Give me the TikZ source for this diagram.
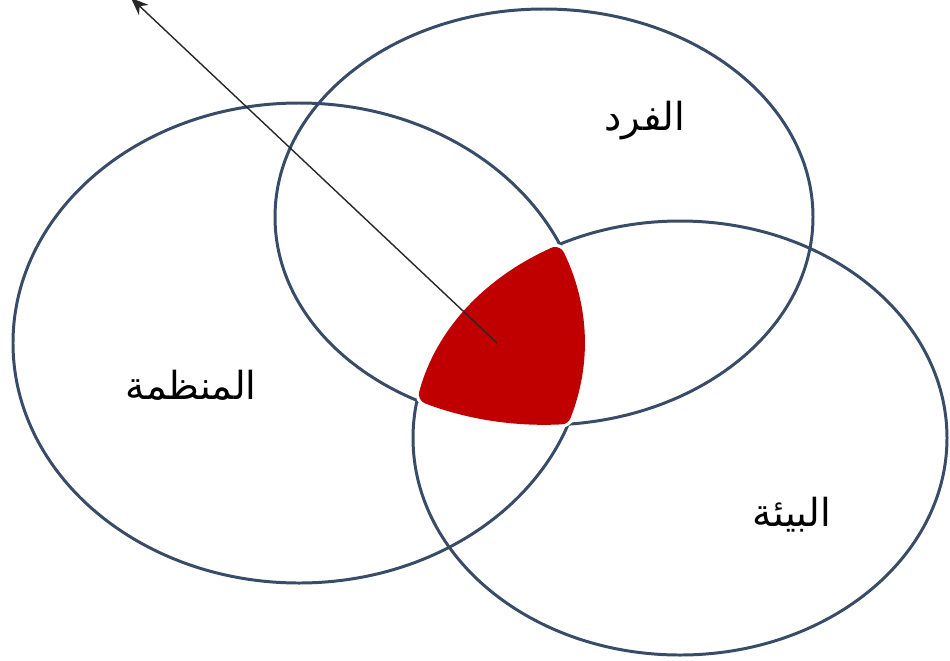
\documentclass[tikz,border=0pt]{standalone}
\usepackage{fontspec}
\newfontfamily\arabicfont[Script=Arabic]{DejaVu Sans}
\TeXXeTstate=1
\usetikzlibrary{arrows.meta}
\definecolor{ringblue}{RGB}{56,76,106}
\definecolor{corered}{RGB}{192,0,0}
\definecolor{pointer}{RGB}{40,40,40}
\begin{document}
\begin{tikzpicture}[x=0.02cm,y=-0.02cm,
  ring/.style={draw=ringblue,line width=1.7pt},
  wordlbl/.style={font=\arabicfont\fontsize{22}{26}\selectfont,inner sep=0pt},
  pointerline/.style={draw=pointer,line width=0.8pt,-{Stealth[length=10pt,width=8pt]}}]
\useasboundingbox (0,0) rectangle (950,660);
\draw[ring] (544,217) ellipse [x radius=269, y radius=208];
\draw[ring] (299,343) ellipse [x radius=286, y radius=240];
\draw[ring] (680,438) ellipse [x radius=267, y radius=217];
\def\corepath{(555,257.1) arc[start angle=-119.1,end angle=-167.8,x radius=257,y radius=207] arc[start angle=116.41,end angle=86.17,x radius=259,y radius=198] arc[start angle=18.14,end angle=-21.94,x radius=276,y radius=230] -- cycle}
\draw[white,line width=15pt,line join=round] \corepath;
\filldraw[corered,line width=11.3pt,line join=round] \corepath;
\node[wordlbl] (fard) at (645,121) {\beginR الفرد\endR};
\node[wordlbl] (org) at (191,385) {\beginR المنظمة\endR};
\node[wordlbl] (env) at (792,515) {\beginR البيئة\endR};
\coordinate (core) at (497,343);
\coordinate (tip) at (131,-2);
\draw[pointerline] (core) -- (tip);
\end{tikzpicture}
\end{document}
